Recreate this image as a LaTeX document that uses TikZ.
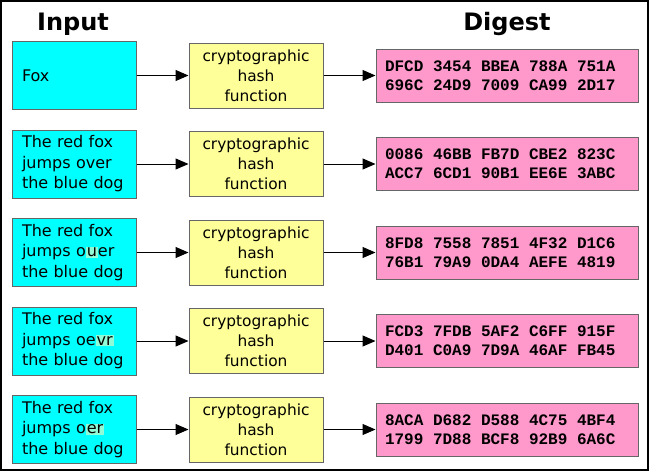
\documentclass[tikz,border=0pt]{standalone}
\usepackage{fontspec}
\setmainfont{DejaVu Sans}
\newfontfamily\hexfont{Liberation Mono}
\usepackage{xcolor}
\usepackage{tikz}
\usetikzlibrary{arrows.meta,positioning}

\definecolor{incyan}{RGB}{0,255,255}
\definecolor{hashyellow}{RGB}{255,255,153}
\definecolor{digestpink}{RGB}{255,153,204}
\definecolor{hlgreen}{RGB}{145,250,215}
\newcommand{\hlt}[1]{{\setlength{\fboxsep}{1pt}\colorbox{hlgreen}{#1}}}
% one row of a digest, five groups with fixed gaps
\newcommand{\hexrow}[5]{#1\hspace{0.6em}#2\hspace{0.6em}#3\hspace{0.6em}#4\hspace{0.6em}#5}

\begin{document}
\begin{tikzpicture}[
  x=1pt, y=-1pt,
  node distance=19.5pt and 52pt,
  every node/.style={font=\fontsize{16}{20.5}\selectfont},
  inbox/.style    ={rectangle, draw=black!60, line width=1pt, fill=incyan,
                    text width=104pt, inner xsep=10pt, minimum height=68pt, align=left},
  hashbox/.style  ={rectangle, draw=black!60, line width=1pt, fill=hashyellow,
                    minimum width=134pt, minimum height=65pt, align=center, inner sep=2pt,
                    font=\fontsize{15.4}{20}\selectfont},
  digestbox/.style={rectangle, draw=black!60, line width=1pt, fill=digestpink,
                    text width=244pt, inner xsep=9pt, minimum height=53pt, align=left,
                    font=\hexfont\bfseries\fontsize{16}{18.7}\selectfont},
  title/.style    ={font=\bfseries\fontsize{24}{28}\selectfont, anchor=base},
  flow/.style     ={-{Triangle[length=13pt,width=11pt]}, line width=1pt}
]
\useasboundingbox (0,0) rectangle (650,471);
\draw[line width=2pt] (1,1) rectangle (647.5,469.7);

% inputs
\node[inbox] (in1) at (74,75.5) {Fox};
\node[inbox, below=of in1] (in2) {The red fox\\jumps over\\the blue dog};
\node[inbox, below=of in2] (in3) {The red fox\\jumps o\hlt{u}er\\the blue dog};
\node[inbox, below=of in3] (in4) {The red fox\\jumps oe\hlt{vr}\\the blue dog};
\node[inbox, below=of in4] (in5) {The red fox\\jumps o\hlt{er}\\the blue dog};

% hash functions
\node[hashbox, right=of in1] (hash1) {cryptographic\\hash\\function};
\node[hashbox, right=of in2] (hash2) {cryptographic\\hash\\function};
\node[hashbox, right=of in3] (hash3) {cryptographic\\hash\\function};
\node[hashbox, right=of in4] (hash4) {cryptographic\\hash\\function};
\node[hashbox, right=of in5] (hash5) {cryptographic\\hash\\function};

% digests
\node[digestbox, right=of hash1] (dg1) {\hexrow{DFCD}{3454}{BBEA}{788A}{751A}\\\hexrow{696C}{24D9}{7009}{CA99}{2D17}};
\node[digestbox, right=of hash2] (dg2) {\hexrow{0086}{46BB}{FB7D}{CBE2}{823C}\\\hexrow{ACC7}{6CD1}{90B1}{EE6E}{3ABC}};
\node[digestbox, right=of hash3] (dg3) {\hexrow{8FD8}{7558}{7851}{4F32}{D1C6}\\\hexrow{76B1}{79A9}{0DA4}{AEFE}{4819}};
\node[digestbox, right=of hash4] (dg4) {\hexrow{FCD3}{7FDB}{5AF2}{C6FF}{915F}\\\hexrow{D401}{C0A9}{7D9A}{46AF}{FB45}};
\node[digestbox, right=of hash5] (dg5) {\hexrow{8ACA}{D682}{D588}{4C75}{4BF4}\\\hexrow{1799}{7D88}{BCF8}{92B9}{6A6C}};

% titles
\node[title] (input) at (73,30.7) {Input};
\node[title] (digest) at (dg1.north |- input.base) {Digest};

\draw[flow] (in1) -- (hash1);
\draw[flow] (in2) -- (hash2);
\draw[flow] (in3) -- (hash3);
\draw[flow] (in4) -- (hash4);
\draw[flow] (in5) -- (hash5);
\draw[flow] (hash1) -- (dg1);
\draw[flow] (hash2) -- (dg2);
\draw[flow] (hash3) -- (dg3);
\draw[flow] (hash4) -- (dg4);
\draw[flow] (hash5) -- (dg5);
\end{tikzpicture}
\end{document}
